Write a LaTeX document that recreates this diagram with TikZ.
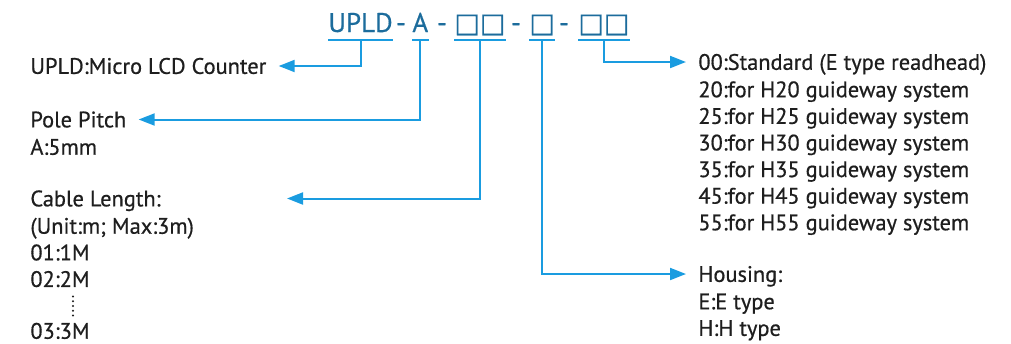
\documentclass[tikz,border=0pt]{standalone}
\usepackage{fontspec}
\setmainfont{PT Sans}[FakeBold=0.6]
\newfontfamily\symfont{DejaVu Sans}[FakeBold=0.6]
\usepackage{xcolor}
\usetikzlibrary{positioning,calc,arrows.meta}

\definecolor{codeblue}{HTML}{1C6C9C}
\definecolor{lineblue}{HTML}{1A9CE0}
\definecolor{txt}{HTML}{1E1E1E}

\newcommand{\sq}{{\symfont\char"25A1}}

\tikzset{
  codepart/.style={inner xsep=0pt, inner ysep=4pt, anchor=base west, text depth=0pt,
    text=codeblue, font=\fontsize{13.5}{14}\selectfont},
  codedash/.style={codepart, anchor=base},
  uline/.style={draw=lineblue, line width=1pt},
  txtbase/.style={inner sep=0pt, align=left, text=txt, font=\fontsize{11.2}{13.3}\selectfont},
  label/.style={txtbase, anchor=west, text height=7.84pt, text depth=0pt},
  sublabel/.style={txtbase, anchor=north west},
  arr/.style={draw=lineblue, line width=1pt, shorten >=6pt,
    -{Triangle[length=8pt,width=6pt]}}
}

\begin{document}
\begin{tikzpicture}[x=0.5pt, y=-0.5pt]
  \useasboundingbox (0,0) rectangle (1011,343);

  % ordering code
  \node[codepart] (upld) at (328,32) {UPLD};
  \node[codedash] (d1) at (401,32) {-};
  \node[codepart] (pole) at (412,32) {A};
  \node[codedash] (d2) at (442,32) {-};
  \node[codepart] (len) at (454,32) {\sq\sq};
  \node[codedash] (d3) at (516,32) {-};
  \node[codepart] (hous) at (529,32) {\sq};
  \node[codedash] (d4) at (564,32) {-};
  \node[codepart] (guide) at (578,32) {\sq\sq};
  \foreach \p in {upld, pole, len, hous, guide} {
    \draw[uline] (\p.south west) -- (\p.south east);
  }

  % left side
  \node[label] (counter) at (30,66) {UPLD:Micro LCD Counter};
  \node[label] (pitch) at (30,119.5) {Pole Pitch};
  \node[sublabel, below right=4.3pt and 0pt of pitch.south west]
    (pitchval) {\rule{0pt}{9pt}A:5mm};
  \node[label] (cable) at (30,198.5) {Cable Length:};
  \node[sublabel, below right=4.3pt and 0pt of cable.south west]
    (cablelist) {\rule{0pt}{9pt}(Unit:m; Max:3m)\\01:1M\\02:2M\\[12.6pt]03:3M};
  \foreach \k in {0,...,4} {
    \fill[txt] (73,296.5+\k*4.75) circle (0.6pt);
  }
  \coordinate (cableend) at (275,198.5);

  % right side
  \node[label] (std) at (698,62) {00:Standard (E type readhead)};
  \node[sublabel, below right=4.3pt and 0pt of std.south west] (stdlist)
    {\rule{0pt}{9pt}20:for H20 guideway system\\25:for H25 guideway system\\
     30:for H30 guideway system\\35:for H35 guideway system\\
     45:for H45 guideway system\\55:for H55 guideway system};
  \node[label] (housing) at (698,274) {Housing:};
  \node[sublabel, below right=4.3pt and 0pt of housing.south west]
    (houselist) {\rule{0pt}{9pt}E:E type\\H:H type};

  % connectors
  \draw[arr] (upld.south) |- (counter.east);
  \draw[arr] (pole.south) |- (pitch.east);
  \draw[arr] (len.south) |- (cableend);
  \draw[arr] (hous.south) |- (housing.west);
  \draw[arr] (guide.south) |- (std.west);
\end{tikzpicture}
\end{document}
